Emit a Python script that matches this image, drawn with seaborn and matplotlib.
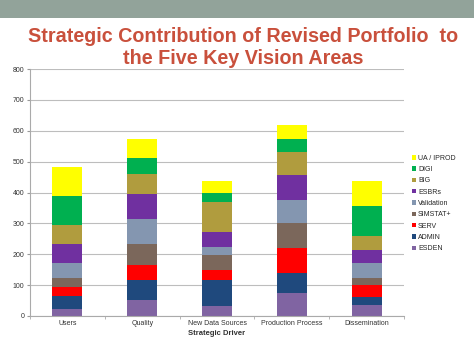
import matplotlib
matplotlib.use("Agg")
import matplotlib.pyplot as plt
import seaborn as sns
import numpy as np
import pandas as pd
from matplotlib.patches import Rectangle, Patch

categories = ["Users", "Quality", "New Data Sources", "Production Process", "Dissemination"]
series_names = ["ESDEN", "ADMIN", "SERV", "SIMSTAT+", "Validation", "ESBRs", "BIG", "DIGI", "UA / IPROD"]
ESDEN = [22, 51, 33, 74, 35]
ADMIN = [43, 66, 83, 66, 28]
SERV = [28, 48, 33, 81, 38]
SIMSTAT = [29, 69, 49, 80, 22]
Validation = [49, 80, 27, 75, 50]
ESBRs = [62, 82, 46, 81, 40]
BIG = [62, 63, 97, 73, 46]
DIGI = [94, 53, 30, 43, 96]
UA_IPROD = [94, 60, 38, 46, 82]
series_values = [ESDEN, ADMIN, SERV, SIMSTAT, Validation, ESBRs, BIG, DIGI, UA_IPROD]
colors = ["#8064A2", "#1F497D", "#FF0000", "#7B675B", "#8496B0",
          "#7030A0", "#B09C3E", "#00B050", "#FFFF00"]
yticks = [0, 100, 200, 300, 400, 500, 600, 700, 800]

sns.set_style("white")
plt.rcParams['font.family'] = ['Liberation Sans', 'DejaVu Sans']

fig = plt.figure(figsize=(4.74, 3.55), dpi=100)
fig.patch.set_facecolor("white")
# header band
fig.add_artist(Rectangle((0, 1 - 18/355), 1, 18/355, transform=fig.transFigure,
                         facecolor="#92A39A", edgecolor="none", zorder=0))
fig.text(0.512, 1 - 36/355, "Strategic Contribution of Revised Portfolio  to",
         ha="center", va="center", color="#C9503C", fontsize=14.2, fontweight="bold")
fig.text(0.512, 1 - 59/355, "the Five Key Vision Areas",
         ha="center", va="center", color="#C9503C", fontsize=14.2, fontweight="bold")

ax = fig.add_axes([30/474, 1 - 316/355, (404 - 30)/474, (316 - 69)/355])

cum = np.cumsum(np.array(series_values), axis=0)
for i in range(len(series_names) - 1, -1, -1):
    df = pd.DataFrame({"cat": categories, "val": cum[i]})
    sns.barplot(data=df, x="cat", y="val", ax=ax, color=colors[i], width=0.4,
                saturation=1, edgecolor="none", linewidth=0, zorder=2)

ax.set_ylim(0, 800)
ax.set_yticks(yticks)
ax.set_yticklabels([str(v) for v in yticks], fontsize=5, color="#333333")
ax.set_xlim(-0.5, 4.5)
ax.tick_params(axis="x", labelsize=5, colors="#333333", length=0, pad=3)
ax.tick_params(axis="y", length=2, color="#999999", pad=2, left=True)
ax.yaxis.grid(True, color="#BDBDBD", linewidth=0.8, zorder=0)
ax.set_axisbelow(True)
for s in ["top", "right"]:
    ax.spines[s].set_visible(False)
for s in ["left", "bottom"]:
    ax.spines[s].set_color("#AAAAAA")
    ax.spines[s].set_linewidth(0.8)
# minor ticks between categories
ax.set_xticks([0.5 + k for k in range(-1, 5)], minor=True)
ax.tick_params(axis="x", which="minor", length=2, color="#AAAAAA", bottom=True)
ax.set_xlabel("Strategic Driver", fontsize=5.5, fontweight="bold", color="#333333", labelpad=2)
ax.set_ylabel("")

handles = [Patch(facecolor=colors[i], edgecolor="none", label=series_names[i])
           for i in range(len(series_names) - 1, -1, -1)]
fig.legend(handles=handles, loc="upper left", bbox_to_anchor=(409/474, 1 - 152/355),
           frameon=False, fontsize=5, handlelength=0.6, handleheight=0.6,
           handletextpad=0.3, labelspacing=0.62, borderaxespad=0)

fig.savefig("out.png", dpi=100, facecolor="white")
